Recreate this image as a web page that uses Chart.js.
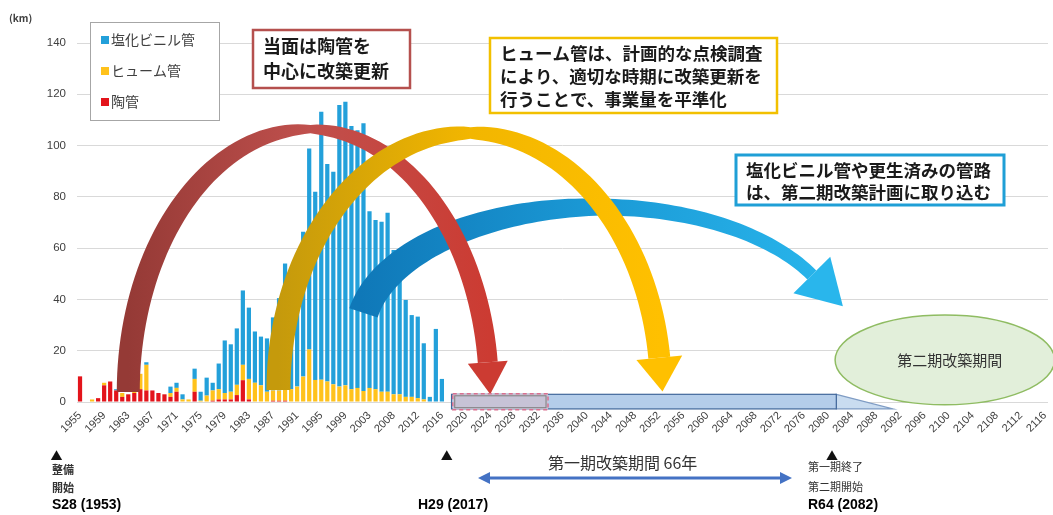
<!DOCTYPE html>
<html lang="ja">
<head>
<meta charset="UTF-8">
<title>管種別布設延長と改築計画</title>
<script src="https://cdn.jsdelivr.net/npm/chart.js"></script>
<style>
  body { margin: 0; background: #fff; }
  #wrap { width: 1053px; height: 515px; position: relative; }
</style>
</head>
<body>
<div id="wrap"><canvas id="pipeChart"></canvas></div>
<script>
// 年度（2004 は元グラフに無い）
const years = [];
for (let y = 1955; y <= 2116; y++) { if (y !== 2004) years.push(String(y)); }

const tickYears = ['1955','1959','1963','1967','1971','1975','1979','1983','1987','1991','1995','1999','2003',
  '2008','2012','2016','2020','2024','2028','2032','2036','2040','2044','2048','2052','2056','2060','2064',
  '2068','2072','2076','2080','2084','2088','2092','2096','2100','2104','2108','2112','2116'];

// 陶管 (km) 1955-2016
const toukan = [10, 0, 0, 1.5, 6.5, 8, 4.5, 2, 3, 3.5, 5, 4.5, 4.5, 3.5, 3, 2, 4, 0, 0, 4,
  0, 0, 0.5, 1, 1, 1, 2.7, 8.5, 1, 0, 0, 0, 0.5, 0.5, 0.5, 0, 0, 0, 0, 0,
  0, 0, 0, 0, 0, 0, 0, 0, 0, 0, 0, 0, 0, 0, 0, 0, 0, 0, 0, 0, 0];
// ヒューム管 (km)
const hume = [0, 0, 1, 0, 1, 0, 0, 1.5, 0, 1, 6, 10, 0, 0, 0, 1.5, 1.5, 1, 1, 5,
  0.5, 2.5, 4, 4, 2.5, 3, 4, 6, 8, 7.5, 6.5, 4, 4, 4, 4.5, 5, 6, 9.9, 20.5, 8.6,
  8.7, 8, 6.9, 6, 6.5, 5, 5.5, 4.3, 5.5, 5, 4, 4, 3, 3, 2, 2, 1.5, 1, 0, 0, 0];
// 塩化ビニル管 (km)
const enbi = [0, 0, 0, 0, 0, 0, 0.5, 0, 0, 0, 0, 1, 0, 0, 0, 2.5, 2, 2, 0, 4,
  3.5, 7, 3, 10, 20.5, 18.5, 22, 29, 27.8, 20, 19, 20.8, 28.5, 36, 49, 43, 50, 56.5, 78.4, 73.4,
  104.5, 84.8, 82.9, 109.8, 110.6, 102.6, 100.5, 104.4, 68.9, 66, 66.3, 69.8, 56.3, 49.1, 37.8, 31.9, 31.8, 21.9, 2, 28.5, 9];

const JP = "'Noto Sans CJK JP', 'Noto Sans', sans-serif";

function ribbon(ctx, o) {
  const N = 90, outer = [], inner = [];
  const t0 = o.t0 * Math.PI / 180, t1 = o.t1 * Math.PI / 180;
  let end = null, dir = null, nrm = null;
  for (let i = 0; i <= N; i++) {
    const t = t0 + (t1 - t0) * i / N;
    const c = Math.cos(t), s = Math.sin(t);
    const px = o.cx + o.rx * c, py = o.cy - o.ry * s;
    let nx = c / o.rx, ny = -s / o.ry;
    const l = Math.hypot(nx, ny); nx /= l; ny /= l;
    const k = Math.pow(Math.abs(c), o.p);
    const w = c < 0 ? o.wT + (o.wL - o.wT) * k : o.wT + (o.wR - o.wT) * k;
    outer.push([px + nx * w / 2, py + ny * w / 2]);
    inner.push([px - nx * w / 2, py - ny * w / 2]);
    if (i === N) {
      end = [px, py]; nrm = [nx, ny];
      const dx = o.rx * s, dy = o.ry * c;
      const dl = Math.hypot(dx, dy); dir = [dx / dl, dy / dl];
    }
  }
  const g = ctx.createLinearGradient(o.cx - o.rx, 0, o.cx + o.rx, 0);
  g.addColorStop(0, o.colors[0]); g.addColorStop(0.5, o.colors[1]); g.addColorStop(1, o.colors[2]);
  ctx.beginPath();
  outer.forEach((p, i) => i ? ctx.lineTo(p[0], p[1]) : ctx.moveTo(p[0], p[1]));
  for (let i = inner.length - 1; i >= 0; i--) ctx.lineTo(inner[i][0], inner[i][1]);
  ctx.closePath();
  ctx.fillStyle = g; ctx.fill();
  // 矢じり
  ctx.beginPath();
  ctx.moveTo(end[0] + nrm[0] * o.half, end[1] + nrm[1] * o.half);
  ctx.lineTo(end[0] + dir[0] * o.len, end[1] + dir[1] * o.len);
  ctx.lineTo(end[0] - nrm[0] * o.half, end[1] - nrm[1] * o.half);
  ctx.closePath();
  ctx.fillStyle = o.colors[2]; ctx.fill();
}

function textBox(ctx, x, y, w, h, color, lw, lines, size, lineGap) {
  ctx.fillStyle = '#fff';
  ctx.fillRect(x, y, w, h);
  ctx.strokeStyle = color; ctx.lineWidth = lw;
  ctx.strokeRect(x, y, w, h);
  ctx.fillStyle = '#1a1a1a';
  ctx.font = 'bold ' + size + 'px ' + JP;
  ctx.textBaseline = 'middle'; ctx.textAlign = 'left';
  lines.forEach((t, i) => ctx.fillText(t, x + 10, y + lineGap * (i + 0.5) + 4));
}

const annot = {
  id: 'annot',
  afterDraw(chart) {
    const ctx = chart.ctx;
    const xs = chart.scales.x, ys = chart.scales.y;
    const X = i => xs.getPixelForValue(i);
    const Y = v => ys.getPixelForValue(v);
    const cw = X(1) - X(0), uh = Y(0) - Y(1);
    ctx.save();

    // 弧の矢印
    ribbon(ctx, { cx: X(86.2), cy: Y(26.1), rx: 39.8 * cw, ry: 49.9 * uh, t0: 170, t1: 28, p: 1,
      wL: 30, wT: 17, wR: 12, len: 44, half: 26, colors: ['#0f78b8', '#1b9ad6', '#29b6ec'] });
    ribbon(ctx, { cx: X(37.9), cy: Y(3.9), rx: 29.9 * cw, ry: 102.5 * uh, t0: 180, t1: 6.5, p: 0.5,
      wL: 23, wT: 7, wR: 20, len: 32, half: 20, colors: ['#953a36', '#c0504d', '#cc3b32'] });
    ribbon(ctx, { cx: X(64.6), cy: Y(4.7), rx: 31.7 * cw, ry: 100.2 * uh, t0: 180, t1: 7.2, p: 0.5,
      wL: 24, wT: 11, wR: 22, len: 34, half: 23, colors: ['#c59a0c', '#f2b600', '#ffc000'] });

    // 第一期改築期間のバー
    const tTop = Y(3), tBot = Y(-2.7);
    ctx.beginPath();
    ctx.moveTo(X(125.4), tTop); ctx.lineTo(X(134.8), tBot); ctx.lineTo(X(125.4), tBot); ctx.closePath();
    ctx.fillStyle = '#c9dcf0'; ctx.fill();
    ctx.strokeStyle = '#7f9cc4'; ctx.lineWidth = 1.2; ctx.stroke();
    ctx.fillStyle = '#b4cdea';
    ctx.fillRect(X(61.6), tTop, X(125.4) - X(61.6), tBot - tTop);
    ctx.strokeStyle = '#41679a'; ctx.lineWidth = 1.2;
    ctx.strokeRect(X(61.6), tTop, X(125.4) - X(61.6), tBot - tTop);

    // 当面の改築範囲（破線）
    ctx.fillStyle = '#c7c3d6';
    ctx.fillRect(X(61.8), Y(3.2), X(77.6) - X(61.8), Y(-3) - Y(3.2));
    ctx.strokeStyle = '#7f7f7f'; ctx.lineWidth = 1;
    ctx.strokeRect(X(61.8) + 2, Y(3.2) + 2, X(77.6) - X(61.8) - 4, Y(-3) - Y(3.2) - 4);
    ctx.setLineDash([4, 3]); ctx.strokeStyle = '#d9708f'; ctx.lineWidth = 1.5;
    ctx.strokeRect(X(61.8), Y(3.2), X(77.6) - X(61.8), Y(-3) - Y(3.2));
    ctx.setLineDash([]);

    // 第二期改築期間（楕円）
    ctx.beginPath();
    ctx.ellipse(X(143.4), Y(16.4), 18.2 * cw, 17.5 * uh, 0, 0, Math.PI * 2);
    ctx.fillStyle = '#e2efda'; ctx.fill();
    ctx.strokeStyle = '#8fbc62'; ctx.lineWidth = 1.5; ctx.stroke();
    ctx.fillStyle = '#333'; ctx.font = '15px ' + JP;
    ctx.textAlign = 'center'; ctx.textBaseline = 'middle';
    ctx.fillText('第二期改築期間', X(143.4) + 5, Y(16.4));

    // 吹き出し
    textBox(ctx, 253, 30, 157, 58, '#b5504e', 2.5, ['当面は陶管を', '中心に改築更新'], 18, 25);
    textBox(ctx, 490, 38, 287, 75, '#f2c000', 2.5,
      ['ヒューム管は、計画的な点検調査', 'により、適切な時期に改築更新を', '行うことで、事業量を平準化'], 17.5, 23);
    textBox(ctx, 736, 155, 268, 50, '#1f9fd6', 3, ['塩化ビニル管や更生済みの管路', 'は、第二期改築計画に取り込む'], 17.5, 22);

    // 凡例
    ctx.fillStyle = '#fff'; ctx.fillRect(90, 22, 129, 98);
    ctx.strokeStyle = '#a6a6a6'; ctx.lineWidth = 1; ctx.strokeRect(90.5, 22.5, 129, 98);
    const ds = chart.data.datasets.slice().reverse();
    ctx.font = '14px ' + JP; ctx.textAlign = 'left'; ctx.textBaseline = 'middle';
    ds.forEach((d, i) => {
      const yy = 40 + i * 31;
      ctx.fillStyle = d.backgroundColor; ctx.fillRect(101, yy - 4, 8, 8);
      ctx.fillStyle = '#404040'; ctx.fillText(d.label, 111, yy);
    });

    // 単位
    ctx.font = 'bold 10px ' + JP; ctx.fillStyle = '#404040';
    ctx.fillText('(km)', 9, 18);

    // 下部の注記
    ctx.fillStyle = '#111'; ctx.font = '12px ' + JP; ctx.textAlign = 'center';
    [X(-3.9), X(60.8), X(124.7)].forEach(x => ctx.fillText('▲', x, 456));
    ctx.textAlign = 'left'; ctx.font = 'bold 11px ' + JP; ctx.fillStyle = '#333';
    ctx.fillText('整備', 52, 470); ctx.fillText('開始', 52, 488);
    ctx.font = '11px ' + JP;
    ctx.fillText('第一期終了', 808, 467); ctx.fillText('第二期開始', 808, 487);
    ctx.font = "bold 14px 'Liberation Sans Narrow', 'Liberation Sans', sans-serif"; ctx.fillStyle = '#000';
    ctx.fillText('S28 (1953)', 52, 505); ctx.fillText('H29 (2017)', 418, 505); ctx.fillText('R64 (2082)', 808, 505);
    ctx.font = '16px ' + JP; ctx.fillStyle = '#333';
    ctx.fillText('第一期改築期間 66年', 548, 463);
    // 両矢印
    ctx.strokeStyle = '#4472c4'; ctx.fillStyle = '#4472c4'; ctx.lineWidth = 3;
    ctx.beginPath(); ctx.moveTo(488, 478); ctx.lineTo(782, 478); ctx.stroke();
    ctx.beginPath(); ctx.moveTo(478, 478); ctx.lineTo(490, 472); ctx.lineTo(490, 484); ctx.closePath(); ctx.fill();
    ctx.beginPath(); ctx.moveTo(792, 478); ctx.lineTo(780, 472); ctx.lineTo(780, 484); ctx.closePath(); ctx.fill();
    ctx.restore();
  }
};

const ctx = document.getElementById('pipeChart').getContext('2d');
const pipeChart = new Chart(ctx, {
  type: 'bar',
  data: {
    labels: years,
    datasets: [
      { label: '陶管', data: toukan, backgroundColor: '#e3141b' },
      { label: 'ヒューム管', data: hume, backgroundColor: '#ffc21c' },
      { label: '塩化ビニル管', data: enbi, backgroundColor: '#23a0da' }
    ]
  },
  options: {
    responsive: true,
    maintainAspectRatio: false,
    animation: false,
    layout: { padding: { top: 43, right: 5, left: 0, bottom: 0 } },
    datasets: { bar: { barPercentage: 0.7, categoryPercentage: 1, borderWidth: 0 } },
    plugins: { legend: { display: false }, tooltip: { enabled: false } },
    scales: {
      x: {
        stacked: true,
        grid: { display: false, drawTicks: false },
        border: { display: false },
        afterFit: s => { s.height = 113; s.paddingLeft = 0; s.paddingRight = 0; },
        ticks: {
          autoSkip: false, maxRotation: 45, minRotation: 45, padding: 7,
          color: '#404040', font: { size: 11, family: "'Liberation Sans', sans-serif" },
          callback: (v, i) => tickYears.includes(years[i]) ? years[i] : ''
        }
      },
      y: {
        stacked: true, min: 0, max: 140,
        afterFit: s => { s.width = 77; },
        grid: { color: '#d9d9d9', drawTicks: false },
        border: { display: false },
        ticks: { stepSize: 20, padding: 11, color: '#404040', font: { size: 11.5, family: "'Liberation Sans', sans-serif" } }
      }
    }
  },
  plugins: [annot]
});
</script>
</body>
</html>
